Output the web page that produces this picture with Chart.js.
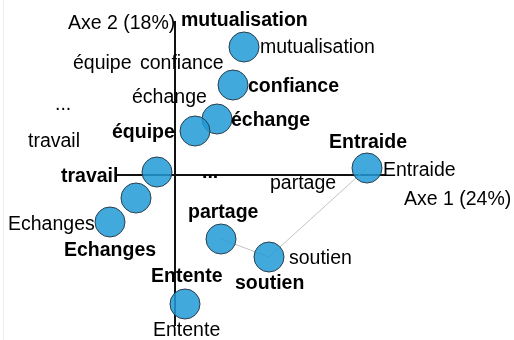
<!DOCTYPE html>
<html>
<head>
<meta charset="utf-8">
<script src="https://cdn.jsdelivr.net/npm/chart.js@4/dist/chart.umd.min.js"></script>
<style>
html,body{margin:0;padding:0;background:#fff;}
#c{display:block;}
</style>
</head>
<body>
<canvas id="c" width="514" height="340"></canvas>
<script>
// Bubble points (factor map coordinates)
const pointNames = ["mutualisation","confiance","échange","équipe","travail","(sans nom)","Echanges","partage","Entente","soutien","Entraide"];
const pointX = [0.69, 0.58, 0.42, 0.20, -0.18, -0.39, -0.65, 0.46, 0.10, 0.94, 1.92];
const pointY = [1.28, 0.90, 0.56, 0.44, 0.03, -0.23, -0.47, -0.64, -1.29, -0.82, 0.07];

// Path linking partage -> soutien -> Entraide
const pathX = [0.46, 0.94, 1.92];
const pathY = [-0.64, -0.82, 0.07];

// Axis segments
const axis1X = [-0.58, 2.10];
const axis2Y = [1.54, -1.51];

// Text labels placed at map coordinates
const labelText = ["Axe 2 (18%)","mutualisation","mutualisation","équipe","confiance","confiance","échange","...","échange","équipe","travail","Entraide","Entraide","travail","...","partage","Axe 1 (24%)","Echanges","partage","Echanges","soutien","soutien","Entente","Entente"];
const labelX = [-1.07, 0.06, 0.85, -1.02, -0.35, 0.73, -0.43, -1.20, 0.56, -0.63, -1.47, 1.54, 2.08, -1.14, 0.27, 0.95, 2.29, -1.67, 0.13, -1.11, 1.14, 0.60, -0.24, -0.22];
const labelY = [1.46, 1.49, 1.22, 1.06, 1.06, 0.83, 0.72, 0.65, 0.49, 0.37, 0.28, 0.27, -0.01, -0.07, -0.03, -0.14, -0.30, -0.55, -0.43, -0.81, -0.89, -1.14, -1.07, -1.61];
const labelBold = [false,true,false,false,false,true,false,false,true,true,false,true,false,true,true,false,false,false,true,true,false,true,true,false];

const FONT = '"Liberation Sans", Arial, sans-serif';

const bgPlugin = {
  id: 'bg',
  beforeDraw(chart) {
    const ctx = chart.ctx;
    ctx.save();
    ctx.fillStyle = '#ffffff';
    ctx.fillRect(0, 0, chart.width, chart.height);
    ctx.strokeStyle = '#e8f1e8';
    ctx.lineWidth = 1;
    ctx.beginPath();
    ctx.moveTo(3.5, 0);
    ctx.lineTo(3.5, chart.height);
    ctx.stroke();
    ctx.restore();
  }
};

const labelPlugin = {
  id: 'labels',
  afterDatasetsDraw(chart) {
    const ctx = chart.ctx;
    const xs = chart.scales.x, ys = chart.scales.y;
    ctx.save();
    ctx.fillStyle = '#000';
    ctx.textAlign = 'left';
    ctx.textBaseline = 'alphabetic';
    for (let i = 0; i < labelText.length; i++) {
      ctx.font = (labelBold[i] ? 'bold ' : '') + '19.5px ' + FONT;
      ctx.fillText(labelText[i], xs.getPixelForValue(labelX[i]), ys.getPixelForValue(labelY[i]));
    }
    ctx.restore();
  }
};

new Chart(document.getElementById('c'), {
  type: 'scatter',
  data: {
    datasets: [
      {
        label: 'points',
        data: pointX.map((x, i) => ({x: x, y: pointY[i]})),
        pointRadius: 15,
        pointHoverRadius: 15,
        backgroundColor: 'rgba(32,154,214,0.85)',
        borderColor: '#2a3f4f',
        borderWidth: 1,
        order: 1
      },
      {
        label: 'path',
        data: pathX.map((x, i) => ({x: x, y: pathY[i]})),
        showLine: true,
        pointRadius: 0,
        borderColor: '#c4c4c4',
        borderWidth: 1,
        order: 2
      },
      {
        label: 'axe1',
        data: axis1X.map(x => ({x: x, y: 0})),
        showLine: true,
        pointRadius: 0,
        borderColor: '#111',
        borderWidth: 2,
        order: 3
      },
      {
        label: 'axe2',
        data: axis2Y.map(y => ({x: 0, y: y})),
        showLine: true,
        pointRadius: 0,
        borderColor: '#111',
        borderWidth: 2,
        order: 3
      }
    ]
  },
  options: {
    responsive: false,
    maintainAspectRatio: false,
    animation: false,
    layout: {padding: 0, autoPadding: false},
    plugins: {legend: {display: false}, tooltip: {enabled: false}},
    scales: {
      x: {type: 'linear', min: -1.75, max: 3.39, display: false},
      y: {type: 'linear', min: -1.65, max: 1.75, display: false}
    }
  },
  plugins: [bgPlugin, labelPlugin]
});
</script>
</body>
</html>
